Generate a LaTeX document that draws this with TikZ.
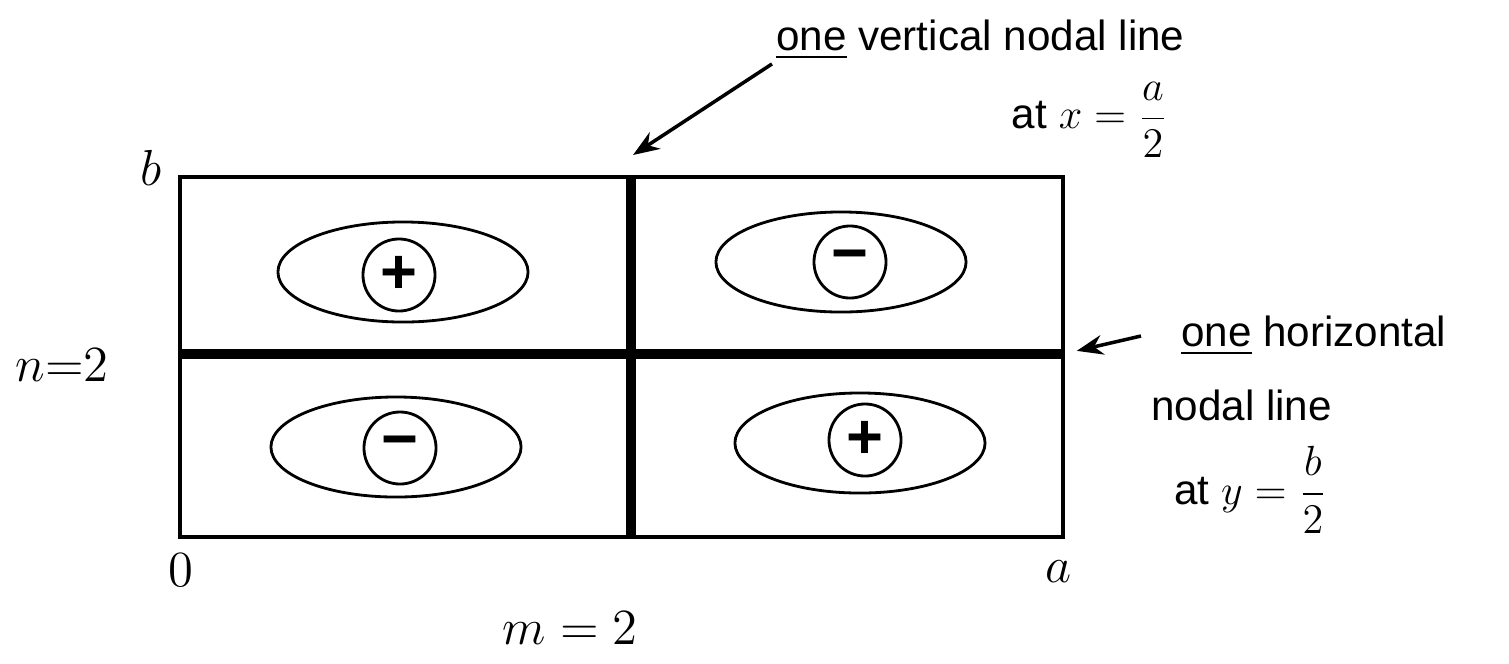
\documentclass[tikz,border=0pt]{standalone}
\usepackage{amsmath}
\usepackage{fontspec}
\setmainfont{Liberation Sans}
\usetikzlibrary{arrows.meta,shapes.geometric,positioning}

\begin{document}
\begin{tikzpicture}[x=0.01cm,y=-0.01cm,>=Stealth,
    lobe/.style={draw,ellipse,line width=0.8pt,minimum width=2.5cm,
      minimum height=1cm,inner sep=0pt},
    signc/.style={draw,circle,line width=0.8pt,minimum size=0.72cm,
      inner sep=0pt,font=\fontsize{18}{18}\selectfont\bfseries},
    note/.style={font=\fontsize{12}{14}\selectfont,inner sep=1pt},
    lbl/.style={font=\fontsize{14}{14}\selectfont}]
  \useasboundingbox (0,0) rectangle (1509,663);

  % Corners of the membrane and the two nodal lines.
  \coordinate (O) at (180,537);
  \coordinate (A) at (1063,537);
  \coordinate (AB) at (1063,177);
  \coordinate (B) at (180,177);
  \coordinate (vtop) at (631,177);
  \coordinate (vbot) at (631,537);
  \coordinate (hleft) at (180,354);
  \coordinate (hright) at (1063,354);

  \draw[line width=1.2pt] (O) -- (A) -- (AB) -- (B) -- cycle;
  \draw[line width=2.6pt] (vtop) -- (vbot);
  \draw[line width=2.6pt] (hleft) -- (hright);

  % Lobes with the sign of the mode in each cell.
  \foreach \name/\ex/\ey/\cx/\cy/\sgn in {
      tl/403/272/399/275/+,
      tr/841/262/850/262/−,
      bl/396/447/400/448/−,
      br/860/443/865/440/+
  }{
      \node[lobe] (lobe\name) at (\ex,\ey) {};
      \node[signc] (sign\name) at (\cx,\cy) {\sgn};
  }

  % Corner and mode labels.
  \node[lbl] (lb) at (151,168) {$b$};
  \node[lbl] (lo) at (181,570) {$0$};
  \node[lbl] (la) at (1058,572) {$a$};
  \node[lbl] (ln) at (62,365) {$n{=}2$};
  \node[lbl] (lm) at (570,628) {$m = 2$};

  % Notes on the nodal lines.
  \node[note,anchor=west] (vtxt) at (772,40) {\underline{one} vertical nodal line};
  \node[note] (vat) at (1090,120) {at $x = \dfrac{a}{2}$};
  \node[note,anchor=west] (htxt) at (1177,336) {\underline{one} horizontal};
  \node[note,anchor=west] (hnod) at (1147,405) {nodal line};
  \node[note,anchor=west] (hat) at (1170,490) {at $y = \dfrac{b}{2}$};

  \coordinate (vtip) at (633,155);
  \draw[->,line width=1pt] (vtxt.south west) -- (vtip);
  \draw[->,line width=1pt,shorten >=4pt] ([xshift=-0.36cm]htxt.west) -- (hright);
\end{tikzpicture}
\end{document}
